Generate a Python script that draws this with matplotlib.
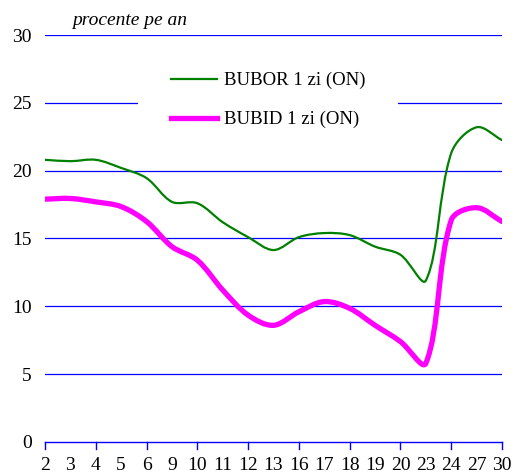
import numpy as np
import matplotlib
matplotlib.use("Agg")
import matplotlib.pyplot as plt
from matplotlib.path import Path
from matplotlib.patches import PathPatch
from matplotlib.lines import Line2D

plt.rcParams['font.family'] = ['Liberation Serif', 'DejaVu Serif']

# zilele lunii (categorii pe axa x)
days = ['2', '3', '4', '5', '6', '9', '10', '11', '12', '13',
        '16', '17', '18', '19', '20', '23', '24', '27', '30']
bubor = [20.8, 20.7, 20.8, 20.2, 19.45, 17.7, 17.6, 16.2, 15.1, 14.15,
         15.1, 15.4, 15.25, 14.4, 13.8, 11.9, 21.3, 23.2, 22.25]
bubid = [17.9, 17.95, 17.7, 17.35, 16.25, 14.4, 13.4, 11.2, 9.35, 8.6,
         9.6, 10.35, 9.85, 8.6, 7.4, 5.8, 16.35, 17.27, 16.25]

green = '#008000'
magenta = '#FF00FF'


def smooth_path(x, y, sx=25.4, sy=13.57):
    # bezier segments through the points (smoothed line), tangents split by
    # segment length in screen units so steep jumps don't overshoot
    x = np.asarray(x, float)
    y = np.asarray(y, float)
    n = len(x)
    seg = np.hypot(np.diff(x) * sx, np.diff(y) * sy)
    verts = [(x[0], y[0])]
    codes = [Path.MOVETO]

    def tangent(i):
        a = max(i - 1, 0)
        b = min(i + 1, n - 1)
        return np.array([x[b] - x[a], y[b] - y[a]])

    for i in range(n - 1):
        p = np.array([x[i], y[i]])
        q = np.array([x[i + 1], y[i + 1]])
        if i > 0:
            w = seg[i] / (seg[i - 1] + seg[i])
            c1 = p + tangent(i) * w / 3
        else:
            c1 = p + (q - p) / 3
        if i + 2 < n:
            w = seg[i] / (seg[i] + seg[i + 1])
            c2 = q - tangent(i + 1) * w / 3
        else:
            c2 = q - (q - p) / 3
        verts += [tuple(c1), tuple(c2), tuple(q)]
        codes += [Path.CURVE4] * 3
    return Path(verts, codes)


fig = plt.figure(figsize=(5.15, 4.75), dpi=100)
ax = fig.add_axes([0.0874, 0.0695, 0.8874, 0.8568])

xs = np.arange(len(days))
ax.add_patch(PathPatch(smooth_path(xs, bubor), fill=False, edgecolor=green,
                       lw=1.6, capstyle='round', joinstyle='round', zorder=3))
ax.add_patch(PathPatch(smooth_path(xs, bubid), fill=False, edgecolor=magenta,
                       lw=3.8, capstyle='round', joinstyle='round', zorder=3))

ax.set_xlim(0, len(days) - 1)
ax.set_ylim(0, 30)
ax.set_yticks(range(0, 31, 5))
for v in range(5, 31, 5):
    ax.axhline(v, color='#0000FF', lw=0.9, zorder=1)

ax.set_xticks(xs)
ax.set_xticklabels(days, fontsize=14)
ax.tick_params(axis='y', length=0, pad=9.5, labelsize=14)
ax.tick_params(axis='x', length=0, pad=11)
# tick marks only every other category
for t in xs[::2]:
    ax.plot([t, t], [0, -0.55], color='#0000FF', lw=1, clip_on=False)

for s in ['top', 'right', 'left']:
    ax.spines[s].set_visible(False)
ax.spines['bottom'].set_color('#0000FF')
ax.spines['bottom'].set_linewidth(1)

ax.text(0.06, 1.015, 'procente pe an', transform=ax.transAxes, style='italic',
        fontsize=14, ha='left', va='bottom')

handles = [Line2D([], [], color=green, lw=1.6),
           Line2D([], [], color=magenta, lw=3.8)]
leg = ax.legend(handles, ['BUBOR 1 zi (ON)', 'BUBID 1 zi (ON)'],
                loc='center', bbox_to_anchor=(0.488, 0.840), fontsize=13.5,
                frameon=True, facecolor='white', edgecolor='none', framealpha=1,
                fancybox=False, handlelength=2.5, handletextpad=0.35,
                labelspacing=1.15, borderpad=1.75, borderaxespad=0)
leg.set_zorder(5)

fig.savefig('out.png', dpi=100)
